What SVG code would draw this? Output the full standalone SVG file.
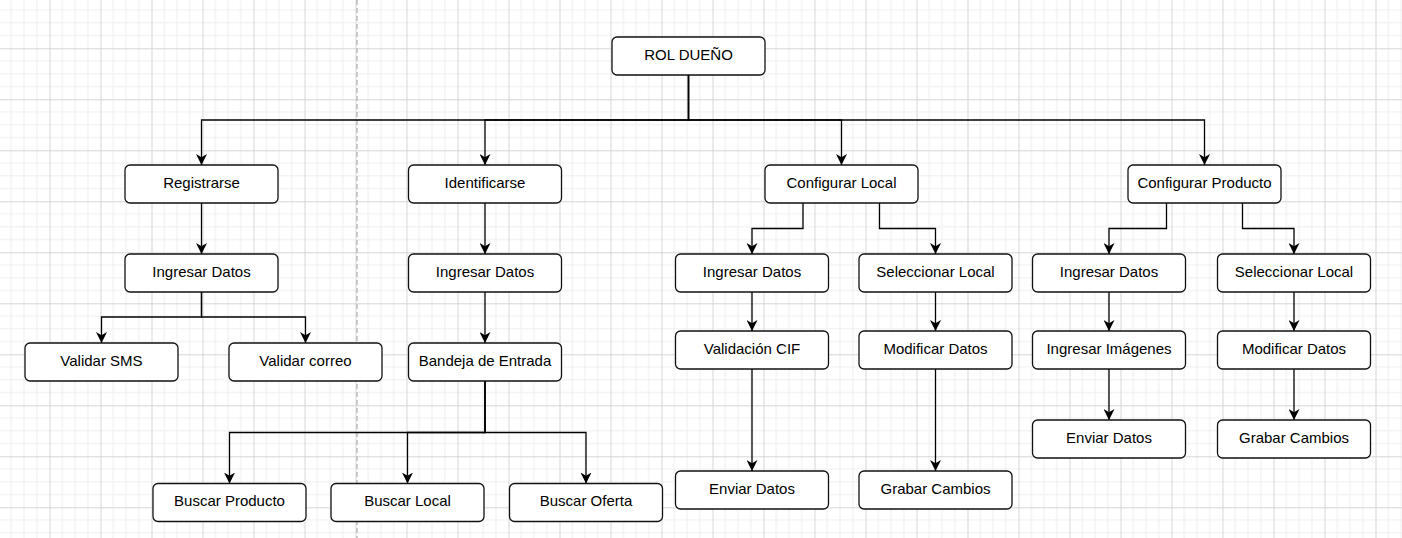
<svg xmlns="http://www.w3.org/2000/svg" width="1402" height="538" viewBox="0 0 1402 538">
<defs>
<pattern id="grid" patternUnits="userSpaceOnUse" x="49.5" y="48.3" width="51" height="51">
<path d="M12.75,0 V51 M25.5,0 V51 M38.25,0 V51 M0,12.75 H51 M0,25.5 H51 M0,38.25 H51" stroke="#efefef" stroke-width="1.2" fill="none"/>
<path d="M0.5,0 V51 M0,0.5 H51" stroke="#d6d6d6" stroke-width="1" fill="none"/>
</pattern>
<marker id="arr" viewBox="0 0 10 10" refX="10" refY="5" markerWidth="11" markerHeight="11" markerUnits="userSpaceOnUse" orient="auto">
<path d="M0,0 L10,5 L0,10 L3,5 Z" fill="#000"/>
</marker>
</defs>
<style>
.n rect{fill:#fff;stroke:#111;stroke-width:1.3}
.n text{font-family:"Liberation Sans",Arial,sans-serif;font-size:15px;fill:#000;text-anchor:middle}
#connectors path{fill:none;stroke:#000;stroke-width:1.3;marker-end:url(#arr)}
</style>
<rect width="1402" height="538" fill="#fff"/>
<rect width="1402" height="538" fill="url(#grid)"/>
<line x1="357" y1="0" x2="357" y2="538" stroke="#bdbdbd" stroke-width="1.5" stroke-dasharray="5,3"/>
<g id="connectors">
<path d="M688.5,75 V120 H201.5 V165"/>
<path d="M688.5,75 V120 H485 V165"/>
<path d="M688.5,75 V120 H841.5 V165"/>
<path d="M688.5,75 V120 H1204.5 V165"/>
<path d="M201.5,203 V254"/>
<path d="M201.5,292 V317 H101.5 V343"/>
<path d="M201.5,292 V317 H305.5 V343"/>
<path d="M485,203 V254"/>
<path d="M485,292 V343"/>
<path d="M485,381 V432.5 H229.5 V483.5"/>
<path d="M485,381 V432.5 H407.5 V483.5"/>
<path d="M485,381 V432.5 H586 V483.5"/>
<path d="M803,203 V228.5 H752 V254"/>
<path d="M879.5,203 V228.5 H935.5 V254"/>
<path d="M752,292 V331"/>
<path d="M752,369 V471"/>
<path d="M935.5,292 V331"/>
<path d="M935.5,369 V471"/>
<path d="M1166.5,203 V228.5 H1109 V254"/>
<path d="M1242.5,203 V228.5 H1294 V254"/>
<path d="M1109,292 V331"/>
<path d="M1109,369 V420"/>
<path d="M1294,292 V331"/>
<path d="M1294,369 V420"/>
</g>
<g id="rol" class="n"><rect x="612" y="37" width="153" height="38" rx="5"/><text x="688.5" y="59.5">ROL DUEÑO</text></g>
<g id="registrarse" class="n"><rect x="125" y="165" width="153" height="38" rx="5"/><text x="201.5" y="187.5">Registrarse</text></g>
<g id="reg_ingresar" class="n"><rect x="125" y="254" width="153" height="38" rx="5"/><text x="201.5" y="276.5">Ingresar Datos</text></g>
<g id="validar_sms" class="n"><rect x="25" y="343" width="153" height="38" rx="5"/><text x="101.5" y="365.5">Validar SMS</text></g>
<g id="validar_correo" class="n"><rect x="229" y="343" width="153" height="38" rx="5"/><text x="305.5" y="365.5">Validar correo</text></g>
<g id="identificarse" class="n"><rect x="408.5" y="165" width="153" height="38" rx="5"/><text x="485" y="187.5">Identificarse</text></g>
<g id="ident_ingresar" class="n"><rect x="408.5" y="254" width="153" height="38" rx="5"/><text x="485" y="276.5">Ingresar Datos</text></g>
<g id="bandeja" class="n"><rect x="408.5" y="343" width="153" height="38" rx="5"/><text x="485" y="365.5">Bandeja de Entrada</text></g>
<g id="buscar_producto" class="n"><rect x="153" y="483.5" width="153" height="38" rx="5"/><text x="229.5" y="506">Buscar Producto</text></g>
<g id="buscar_local" class="n"><rect x="331" y="483.5" width="153" height="38" rx="5"/><text x="407.5" y="506">Buscar Local</text></g>
<g id="buscar_oferta" class="n"><rect x="509.5" y="483.5" width="153" height="38" rx="5"/><text x="586" y="506">Buscar Oferta</text></g>
<g id="configurar_local" class="n"><rect x="765" y="165" width="153" height="38" rx="5"/><text x="841.5" y="187.5">Configurar Local</text></g>
<g id="cl_ingresar" class="n"><rect x="675.5" y="254" width="153" height="38" rx="5"/><text x="752" y="276.5">Ingresar Datos</text></g>
<g id="cl_seleccionar" class="n"><rect x="859" y="254" width="153" height="38" rx="5"/><text x="935.5" y="276.5">Seleccionar Local</text></g>
<g id="validacion_cif" class="n"><rect x="675.5" y="331" width="153" height="38" rx="5"/><text x="752" y="353.5">Validación CIF</text></g>
<g id="cl_modificar" class="n"><rect x="859" y="331" width="153" height="38" rx="5"/><text x="935.5" y="353.5">Modificar Datos</text></g>
<g id="cl_enviar" class="n"><rect x="675.5" y="471" width="153" height="38" rx="5"/><text x="752" y="493.5">Enviar Datos</text></g>
<g id="cl_grabar" class="n"><rect x="859" y="471" width="153" height="38" rx="5"/><text x="935.5" y="493.5">Grabar Cambios</text></g>
<g id="configurar_producto" class="n"><rect x="1128" y="165" width="153" height="38" rx="5"/><text x="1204.5" y="187.5">Configurar Producto</text></g>
<g id="cp_ingresar" class="n"><rect x="1032.5" y="254" width="153" height="38" rx="5"/><text x="1109" y="276.5">Ingresar Datos</text></g>
<g id="cp_seleccionar" class="n"><rect x="1217.5" y="254" width="153" height="38" rx="5"/><text x="1294" y="276.5">Seleccionar Local</text></g>
<g id="ingresar_imagenes" class="n"><rect x="1032.5" y="331" width="153" height="38" rx="5"/><text x="1109" y="353.5">Ingresar Imágenes</text></g>
<g id="cp_modificar" class="n"><rect x="1217.5" y="331" width="153" height="38" rx="5"/><text x="1294" y="353.5">Modificar Datos</text></g>
<g id="cp_enviar" class="n"><rect x="1032.5" y="420" width="153" height="38" rx="5"/><text x="1109" y="442.5">Enviar Datos</text></g>
<g id="cp_grabar" class="n"><rect x="1217.5" y="420" width="153" height="38" rx="5"/><text x="1294" y="442.5">Grabar Cambios</text></g>
</svg>
